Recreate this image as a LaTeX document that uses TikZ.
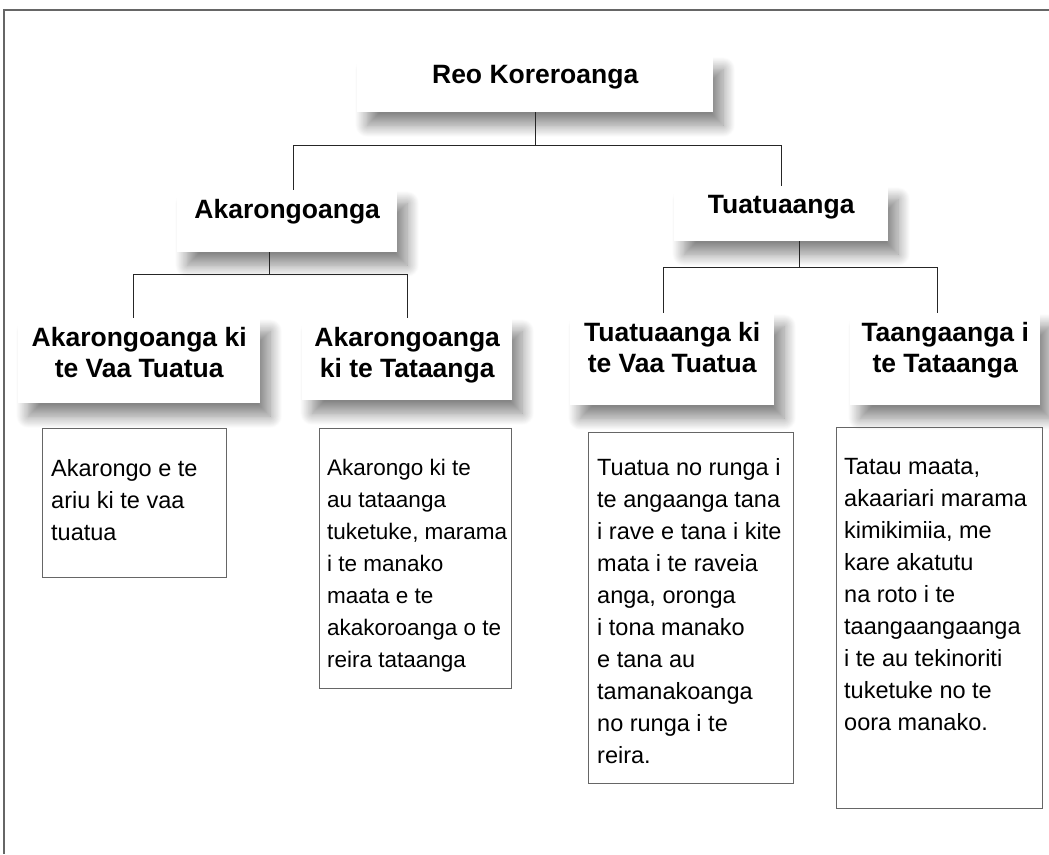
\documentclass[tikz,border=0pt]{standalone}
\usepackage{fontspec}
\setmainfont{Liberation Sans}
\usetikzlibrary{shadows.blur}

\tikzset{
  hdr/.style={anchor=north west, fill=white, inner sep=0pt,
    font=\fontsize{26.5}{31}\selectfont\bfseries,
    blur shadow={shadow xshift=10pt, shadow yshift=-13pt,
      shadow blur radius=12pt, shadow blur steps=14, shadow opacity=48}},
  link/.style={draw=black!85, line width=1.3pt},
  detbox/.style={anchor=north west, draw=black!60, line width=1.3pt, inner sep=0pt},
  dettext/.style={anchor=north west, inner sep=0pt, align=left,
    font=\fontsize{23.5}{32}\selectfont},
  frame/.style={draw=black!60, line width=2pt}
}
\newcommand{\hdrbox}[3]{\parbox[c][#2][t]{#1}{\centering\vspace*{9pt}#3}}

\begin{document}
\begin{tikzpicture}[x=1pt, y=-1pt]
  \useasboundingbox (0,0) rectangle (1049,854);

  % outer frame
  \draw[frame] (3,10) -- (1049,10);
  \draw[frame] (4,10) -- (4,854);

  % heading boxes
  \node (root) [hdr] at (357,56) {\hdrbox{356pt}{56pt}{Reo Koreroanga}};
  \node (ak) [hdr] at (177,190) {\hdrbox{220pt}{62pt}{Akarongoanga}};
  \node (tu) [hdr] at (674,186) {\hdrbox{214pt}{55pt}{Tuatuaanga}};
  \node (a1) [hdr] at (18,318) {\hdrbox{242pt}{85pt}{Akarongoanga ki\\te Vaa Tuatua}};
  \node (a2) [hdr] at (302,318) {\hdrbox{210pt}{82pt}{Akarongoanga\\ki te Tataanga}};
  \node (t1) [hdr] at (570,313) {\hdrbox{204pt}{92pt}{Tuatuaanga ki\\te Vaa Tuatua}};
  \node (t2) [hdr] at (850,313) {\hdrbox{190pt}{92pt}{Taangaanga i\\te Tataanga}};

  % tree lines
  \draw[link] (root.south) -- ++(0,33) coordinate (j0);
  \draw[link] (j0) -| ([xshift=6pt]ak.north);
  \draw[link] (j0) -| (tu.north);
  \draw[link] ([xshift=-18pt]ak.south) -- ++(0,22) coordinate (j1);
  \draw[link] (j1) -| ([xshift=-6pt]a1.north);
  \draw[link] (j1) -| (a2.north);
  \draw[link] ([xshift=18pt]tu.south) -- ++(0,26) coordinate (j2);
  \draw[link] (j2) -| ([xshift=-9pt]t1.north);
  \draw[link] (j2) -| ([xshift=-8pt]t2.north);

  % detail boxes
  \node (d1) [detbox, minimum width=184pt, minimum height=149pt] at (42,428) {};
  \node (d1t) [dettext] at ([shift={(9,31)}]d1.north west)
    {Akarongo e te\\ariu ki te vaa\\tuatua};

  \node (d2) [detbox, minimum width=192pt, minimum height=260pt] at (319,428) {};
  \node (d2t) [dettext, font=\fontsize{22.5}{32}\selectfont] at ([shift={(8,31)}]d2.north west)
    {Akarongo ki te\\au tataanga\\tuketuke, marama\\i te manako\\maata e te\\akakoroanga o te\\reira tataanga};

  \node (d3) [detbox, minimum width=205pt, minimum height=351pt] at (588,432) {};
  \node (d3t) [dettext] at ([shift={(9,26)}]d3.north west)
    {Tuatua no runga i\\te angaanga tana\\i rave e tana i kite\\mata i te raveia\\anga, oronga\\i tona manako\\e tana au\\tamanakoanga\\no runga i te\\reira.};

  \node (d4) [detbox, minimum width=206pt, minimum height=381pt] at (836,427) {};
  \node (d4t) [dettext] at ([shift={(8,31)}]d4.north west)
    {Tatau maata,\\akaariari marama\\kimikimiia, me\\kare akatutu\\na roto i te\\taangaangaanga\\i te au tekinoriti\\tuketuke no te\\oora manako.};
\end{tikzpicture}
\end{document}
